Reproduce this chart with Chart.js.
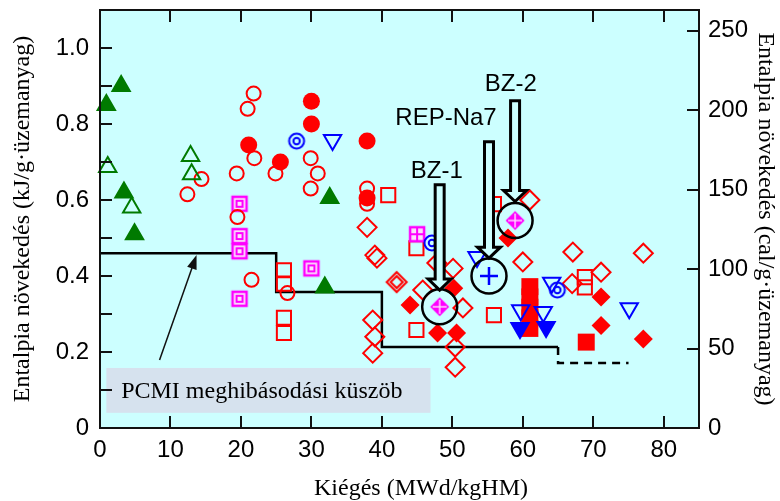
<!DOCTYPE html>
<html>
<head>
<meta charset="utf-8">
<script src="https://cdn.jsdelivr.net/npm/chart.js@4.4.1/dist/chart.umd.min.js"></script>
<style>
  html, body { margin: 0; padding: 0; background: #fff; }
</style>
</head>
<body>
<canvas id="enthalpyChart" width="780" height="501"></canvas>
<script>
// burnup (MWd/kgHM), enthalpy increase (kJ/g)
const greenTriFilled = [[0.9,0.85],[3.0,0.90],[3.4,0.62],[4.9,0.51],[32.6,0.605],[31.9,0.37]];
const greenTriOpen = [[1.1,0.687],[12.85,0.716],[13.0,0.668],[4.5,0.58]];
const redCircleOpen = [
  [21.8,0.88],[20.95,0.84],[21.9,0.71],[19.4,0.67],[24.9,0.67],[14.4,0.655],[12.4,0.615],
  [29.9,0.71],[30.9,0.67],[29.9,0.63],[19.5,0.555],[21.5,0.39],[26.6,0.355],[37.9,0.63],[37.9,0.59]
];
const redCircleFilled = [[21.1,0.745],[25.6,0.70],[30.0,0.86],[30.0,0.80],[37.9,0.755],[37.9,0.605]];
const blueRing = [[27.9,0.755],[47.1,0.487],[64.9,0.363]];
const blueTriDownOpen = [[33.0,0.758],[53.5,0.45],[64.1,0.382],[75.1,0.315],[59.7,0.31],[62.9,0.305]];
const blueTriDownFilled = [[59.6,0.263],[63.3,0.266]];
const magentaBoxed = [[19.8,0.59],[19.8,0.505],[19.8,0.465],[19.8,0.34],[30.0,0.42]];
const magentaGrid = [[45.0,0.51]];
const redSquareOpen = [
  [40.9,0.613],[44.9,0.473],[26.1,0.415],[26.1,0.38],[26.1,0.29],[26.1,0.25],
  [44.9,0.258],[55.9,0.297],[55.9,0.589],[68.8,0.397],[68.8,0.37]
];
const redSquareFilled = [[61.0,0.372],[61.0,0.345],[61.0,0.318],[61.0,0.29],[61.0,0.262],[69.0,0.226]];
const redDiamondOpen = [
  [37.9,0.528],[39.0,0.455],[39.3,0.447],[47.8,0.434],[50.1,0.42],[45.8,0.363],[51.5,0.316],
  [50.4,0.213],[50.4,0.16],[38.7,0.284],[39.0,0.24],[38.7,0.197],
  [61.0,0.60],[60.0,0.437],[67.1,0.463],[77.1,0.46],[71.1,0.41],[67.0,0.38]
];
const redDiamondDouble = [[42.1,0.384]];
const redDiamondFilled = [[44.0,0.324],[50.2,0.368],[47.9,0.25],[50.6,0.25],[71.1,0.345],[71.1,0.27],[77.1,0.234],[57.9,0.50]];
const bzRods = [[48.2,0.319],[58.9,0.546]];
const repNa7 = [[55.2,0.40]];

// PCMI failure threshold: level holds from each burnup break to the next
const stepBurnup = [0, 25, 40, 65];
const stepLevel = [0.46, 0.358, 0.213];
const dashedBurnup = [65, 75];
const dashedLevel = 0.171;

// annotation arrows: x, top of shaft, tip
const callouts = [
  { label: 'BZ-1', x: 48.2, top: 0.64, tip: 0.363, lx: 47.8, ly: 0.676 },
  { label: 'REP-Na7', x: 55.2, top: 0.753, tip: 0.447, lx: 49.1, ly: 0.816 },
  { label: 'BZ-2', x: 58.9, top: 0.861, tip: 0.596, lx: 58.3, ly: 0.903 }
];

const xTicks = [0, 10, 20, 30, 40, 50, 60, 70, 80];
const yTicks = [0, 0.1, 0.2, 0.3, 0.4, 0.5, 0.6, 0.7, 0.8, 0.9, 1.0];
const calTicks = [0, 50, 100, 150, 200, 250];
const KJ_TO_CAL = 239;

const plotBg = '#ccffff';
const red = '#ff0000', green = '#007a00', blue = '#0000ff', magenta = '#ff00ff';
const sans = "'Liberation Sans', Arial, sans-serif";
const serif = "'Liberation Serif', 'Times New Roman', serif";

function pts(arr) {
  return arr.map(([x, y]) => ({ x, y }));
}

function marker(size, draw) {
  const c = document.createElement('canvas');
  c.width = size; c.height = size;
  draw(c.getContext('2d'), size / 2);
  return c;
}

const ringMark = marker(22, (g, m) => {
  g.strokeStyle = blue; g.lineWidth = 2;
  g.beginPath(); g.arc(m, m, 7.5, 0, Math.PI * 2); g.stroke();
  g.beginPath(); g.arc(m, m, 3.2, 0, Math.PI * 2); g.stroke();
});

const boxedMark = marker(22, (g, m) => {
  g.fillStyle = '#fbe3fb'; g.fillRect(m - 7, m - 7, 14, 14);
  g.strokeStyle = magenta; g.lineWidth = 2.5;
  g.strokeRect(m - 7, m - 7, 14, 14);
  g.lineWidth = 2;
  g.strokeRect(m - 3, m - 3, 6, 6);
});

const gridMark = marker(22, (g, m) => {
  g.fillStyle = '#fbe3fb'; g.fillRect(m - 7, m - 7, 14, 14);
  g.strokeStyle = magenta; g.lineWidth = 2.5;
  g.strokeRect(m - 7, m - 7, 14, 14);
  g.lineWidth = 2;
  g.beginPath();
  g.moveTo(m, m - 7); g.lineTo(m, m + 7);
  g.moveTo(m - 7, m); g.lineTo(m + 7, m);
  g.stroke();
});

function diamondPath(g, m, r) {
  g.beginPath();
  g.moveTo(m, m - r); g.lineTo(m + r, m); g.lineTo(m, m + r); g.lineTo(m - r, m);
  g.closePath();
}

const doubleDiamond = marker(26, (g, m) => {
  g.strokeStyle = red; g.lineWidth = 2;
  diamondPath(g, m, 10); g.stroke();
  diamondPath(g, m, 6); g.stroke();
});

const bzMark = marker(24, (g, m) => {
  g.fillStyle = magenta;
  diamondPath(g, m, 9.5); g.fill();
  g.strokeStyle = '#ffd6ff'; g.lineWidth = 1.5;
  g.beginPath();
  g.moveTo(m, m - 7); g.lineTo(m, m + 7);
  g.moveTo(m - 7, m); g.lineTo(m + 7, m);
  g.stroke();
});

// corner points of the step line
const stepPoints = [];
stepLevel.forEach((lv, i) => {
  stepPoints.push({ x: stepBurnup[i], y: lv });
  stepPoints.push({ x: stepBurnup[i + 1], y: lv });
});
const dashedPoints = [
  { x: dashedBurnup[0], y: stepLevel[stepLevel.length - 1] },
  { x: dashedBurnup[0], y: dashedLevel },
  { x: dashedBurnup[1], y: dashedLevel }
];
const circled = bzRods.concat(repNa7);

function ds(data, style, radius, color, filled, extra) {
  return Object.assign({
    data: pts(data),
    pointStyle: style,
    pointRadius: radius,
    pointBorderWidth: 2,
    borderColor: color,
    backgroundColor: filled ? color : 'rgba(0,0,0,0)',
    showLine: false,
    clip: false
  }, extra || {});
}

const plotBgPlugin = {
  id: 'plotBg',
  beforeDraw(chart) {
    const { ctx, chartArea: a } = chart;
    ctx.save();
    ctx.fillStyle = plotBg;
    ctx.fillRect(a.left, a.top, a.right - a.left, a.bottom - a.top);
    ctx.restore();
  }
};

function hollowArrow(ctx, x, yTop, yTip) {
  const sw = 4.5, hw = 11.5, hl = 11;
  ctx.beginPath();
  ctx.moveTo(x - sw, yTop);
  ctx.lineTo(x - sw, yTip - hl);
  ctx.lineTo(x - hw, yTip - hl);
  ctx.lineTo(x, yTip);
  ctx.lineTo(x + hw, yTip - hl);
  ctx.lineTo(x + sw, yTip - hl);
  ctx.lineTo(x + sw, yTop);
  ctx.closePath();
  ctx.fillStyle = plotBg;
  ctx.fill();
  ctx.lineWidth = 3;
  ctx.strokeStyle = '#000';
  ctx.stroke();
}

const annotations = {
  id: 'annotations',
  afterDatasetsDraw(chart) {
    const { ctx, scales: { x, y } } = chart;
    ctx.save();

    // threshold label box
    const bx0 = x.getPixelForValue(0.9), bx1 = x.getPixelForValue(46.9);
    const by0 = y.getPixelForValue(0.158), by1 = y.getPixelForValue(0.04);
    ctx.fillStyle = '#d6e2ee';
    ctx.fillRect(bx0, by0, bx1 - bx0, by1 - by0);
    ctx.fillStyle = '#000';
    ctx.font = '24px ' + serif;
    ctx.textAlign = 'left';
    ctx.textBaseline = 'middle';
    ctx.fillText('PCMI meghibásodási küszöb', x.getPixelForValue(3.0), (by0 + by1) / 2 + 1);

    // thin arrow to the threshold line
    const tx = x.getPixelForValue(8.45), ty = y.getPixelForValue(0.179);
    const hx = x.getPixelForValue(13.7), hy = y.getPixelForValue(0.455);
    const ang = Math.atan2(hy - ty, hx - tx);
    ctx.strokeStyle = '#111';
    ctx.lineWidth = 1.5;
    ctx.beginPath();
    ctx.moveTo(tx, ty);
    ctx.lineTo(hx - 10 * Math.cos(ang), hy - 10 * Math.sin(ang));
    ctx.stroke();
    ctx.fillStyle = '#111';
    ctx.beginPath();
    ctx.moveTo(hx, hy);
    ctx.lineTo(hx - 14 * Math.cos(ang) + 5 * Math.sin(ang), hy - 14 * Math.sin(ang) - 5 * Math.cos(ang));
    ctx.lineTo(hx - 14 * Math.cos(ang) - 5 * Math.sin(ang), hy - 14 * Math.sin(ang) + 5 * Math.cos(ang));
    ctx.closePath();
    ctx.fill();

    // hollow arrows and rod names
    ctx.font = '24px ' + sans;
    ctx.textAlign = 'center';
    callouts.forEach(c => {
      hollowArrow(ctx, x.getPixelForValue(c.x), y.getPixelForValue(c.top), y.getPixelForValue(c.tip));
      ctx.fillStyle = '#000';
      ctx.fillText(c.label, x.getPixelForValue(c.lx), y.getPixelForValue(c.ly));
    });
    ctx.restore();
  }
};

const frame = {
  id: 'frame',
  afterDraw(chart) {
    const { ctx, chartArea: a, scales } = chart;
    const tl = 12;
    ctx.save();
    ctx.strokeStyle = '#111';
    ctx.lineWidth = 2;
    ctx.strokeRect(a.left, a.top, a.right - a.left, a.bottom - a.top);
    ctx.beginPath();
    xTicks.forEach(v => {
      const px = Math.round(scales.x.getPixelForValue(v));
      ctx.moveTo(px, a.bottom); ctx.lineTo(px, a.bottom - tl);
      ctx.moveTo(px, a.top); ctx.lineTo(px, a.top + tl);
    });
    yTicks.forEach(v => {
      const py = Math.round(scales.y.getPixelForValue(v));
      ctx.moveTo(a.left, py); ctx.lineTo(a.left + tl, py);
    });
    calTicks.forEach(v => {
      const py = Math.round(scales.y2.getPixelForValue(v));
      ctx.moveTo(a.right, py); ctx.lineTo(a.right - tl, py);
    });
    ctx.stroke();

    // x axis title
    ctx.fillStyle = '#000';
    ctx.font = '24px ' + serif;
    ctx.textAlign = 'center';
    ctx.textBaseline = 'middle';
    ctx.fillText('Kiégés (MWd/kgHM)', 421, 489);
    ctx.restore();
  }
};

function fixWidth(w) {
  return s => {
    s.width = w;
    s.paddingTop = 0;
    s.paddingBottom = 0;
  };
}

new Chart(document.getElementById('enthalpyChart'), {
  type: 'scatter',
  data: {
    datasets: [
      ds(circled, 'circle', 17.5, '#000', false, { pointBorderWidth: 2.5 }),
      ds(bzRods, bzMark, 10, magenta, true),
      ds(repNa7, 'cross', 9, blue, false, { pointBorderWidth: 2.5 }),
      ds(greenTriFilled, 'triangle', 10, green, true),
      ds(greenTriOpen, 'triangle', 10, green, false),
      ds(redCircleFilled, 'circle', 8.5, red, true, { pointBorderWidth: 0 }),
      ds(redCircleOpen, 'circle', 7, red, false),
      ds(blueRing, ringMark, 10, blue, false),
      ds(blueTriDownOpen, 'triangle', 10, blue, false, { rotation: 180 }),
      ds(blueTriDownFilled, 'triangle', 10, blue, true, { rotation: 180 }),
      ds(magentaBoxed, boxedMark, 10, magenta, false),
      ds(magentaGrid, gridMark, 10, magenta, false),
      ds(redSquareFilled, 'rect', 12, red, true, { pointBorderWidth: 0 }),
      ds(redSquareOpen, 'rect', 10, red, false),
      ds(redDiamondFilled, 'rectRot', 9.5, red, true, { pointBorderWidth: 0 }),
      ds(redDiamondDouble, doubleDiamond, 10, red, false),
      ds(redDiamondOpen, 'rectRot', 9.5, red, false),
      {
        data: stepPoints, showLine: true, pointRadius: 0,
        borderColor: '#000', borderWidth: 2.5, fill: false
      },
      {
        data: dashedPoints, showLine: true, pointRadius: 0,
        borderColor: '#000', borderWidth: 2.5, borderDash: [8, 6], fill: false
      }
    ]
  },
  options: {
    responsive: false,
    animation: false,
    layout: { autoPadding: false, padding: { top: 10, left: 0, right: 0, bottom: 0 } },
    plugins: {
      legend: { display: false },
      tooltip: { enabled: false }
    },
    scales: {
      x: {
        type: 'linear',
        min: 0,
        max: 85,
        afterFit: s => { s.height = 73; s.paddingLeft = 0; s.paddingRight = 0; },
        afterBuildTicks: s => { s.ticks = xTicks.map(v => ({ value: v })); },
        grid: { display: false, drawTicks: false },
        border: { display: false },
        ticks: {
          padding: 8,
          color: '#000',
          font: { family: sans, size: 24 },
          maxRotation: 0
        }
      },
      y: {
        min: 0,
        max: 1.1,
        afterFit: fixWidth(100),
        afterBuildTicks: s => { s.ticks = yTicks.map(v => ({ value: v })); },
        grid: { display: false, drawTicks: false },
        border: { display: false },
        ticks: {
          padding: 11,
          color: '#000',
          font: { family: sans, size: 24 },
          callback: v => v === 0 ? '0' : (Math.round(v * 10) % 2 === 0 ? v.toFixed(1) : '')
        },
        title: {
          display: true,
          text: 'Entalpia növekedés (kJ/g·üzemanyag)',
          color: '#000',
          font: { family: serif, size: 24 },
          padding: { top: 8, bottom: 0 }
        }
      },
      y2: {
        position: 'right',
        min: 0,
        max: 1.1 * KJ_TO_CAL,
        afterFit: fixWidth(81),
        afterBuildTicks: s => { s.ticks = calTicks.map(v => ({ value: v })); },
        grid: { display: false, drawTicks: false },
        border: { display: false },
        ticks: {
          padding: 9,
          color: '#000',
          font: { family: sans, size: 24 }
        },
        title: {
          display: true,
          text: 'Entalpia növekedés (cal/g·üzemanyag)',
          color: '#000',
          font: { family: serif, size: 24 },
          padding: { top: 0, bottom: 0 }
        }
      }
    }
  },
  plugins: [plotBgPlugin, annotations, frame]
});
</script>
</body>
</html>
